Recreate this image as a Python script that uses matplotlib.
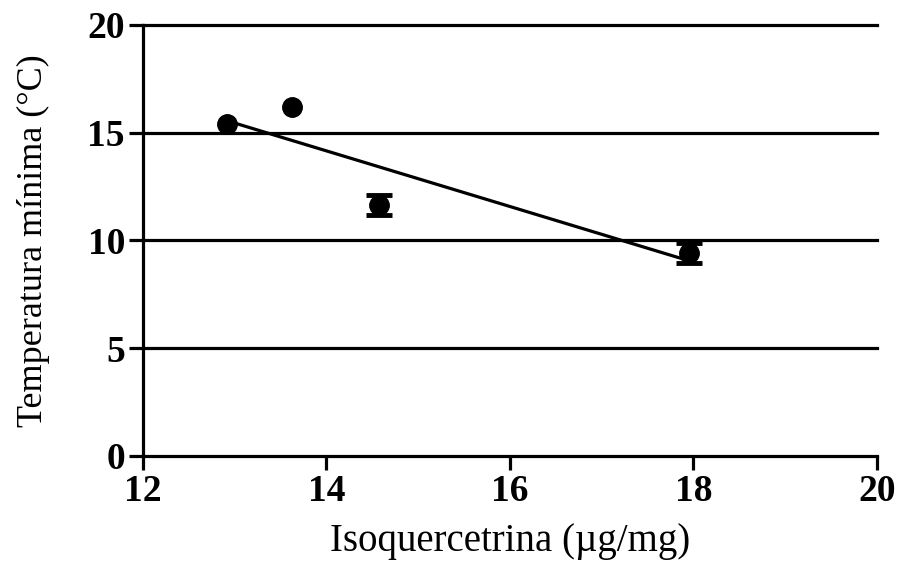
import matplotlib.pyplot as plt
import numpy as np

plt.rcParams['font.family'] = ['Liberation Serif', 'DejaVu Serif']

isoquercetrina = [12.92, 13.62, 14.57, 17.95]
temp_min = [15.4, 16.2, 11.65, 9.42]
temp_err = [0.25, 0.25, 0.48, 0.45]

x_ticks = [12, 14, 16, 18, 20]
y_ticks = [0, 5, 10, 15, 20]

fig = plt.figure(figsize=(8.99, 5.67), dpi=100)
ax = fig.add_axes([0.159, 0.196, 0.8165, 0.76])

# horizontal reference lines
for yv in y_ticks[1:]:
    ax.axhline(yv, color='black', lw=2.3, zorder=1, clip_on=False)

x = np.array(isoquercetrina)
y = np.array(temp_min)
err = np.array(temp_err)

ax.plot(x, y, 'o', color='black', markersize=14, zorder=4)
# bars shorter than the symbol are hidden behind it
big = err > 0.4
ax.errorbar(x[big], y[big], yerr=err[big], fmt='none', ecolor='black',
            elinewidth=3, capsize=9.5, capthick=3.5, zorder=3)

# linear regression
slope, intercept = np.polyfit(x, y, 1)
xs = np.array([x.min(), x.max()])
ax.plot(xs, slope * xs + intercept, color='black', lw=2.3, zorder=2)

ax.set_xlim(12, 20)
ax.set_ylim(0, 20)
ax.set_xticks(x_ticks)
ax.set_yticks(y_ticks)
for lbl in ax.get_xticklabels() + ax.get_yticklabels():
    lbl.set_fontweight('bold')
ax.tick_params(axis='both', labelsize=27, width=2.3, length=10, direction='out')
ax.tick_params(axis='y', pad=3)
ax.tick_params(axis='x', pad=3)

ax.spines['top'].set_visible(False)
ax.spines['right'].set_visible(False)
ax.spines['left'].set_linewidth(2.3)
ax.spines['bottom'].set_linewidth(2.3)

ax.set_xlabel('Isoquercetrina (\u00b5g/mg)', fontsize=28, labelpad=10)
ax.set_ylabel('Temperatura mínima (°C)', fontsize=26, labelpad=27)

fig.savefig('out.png', dpi=100)
